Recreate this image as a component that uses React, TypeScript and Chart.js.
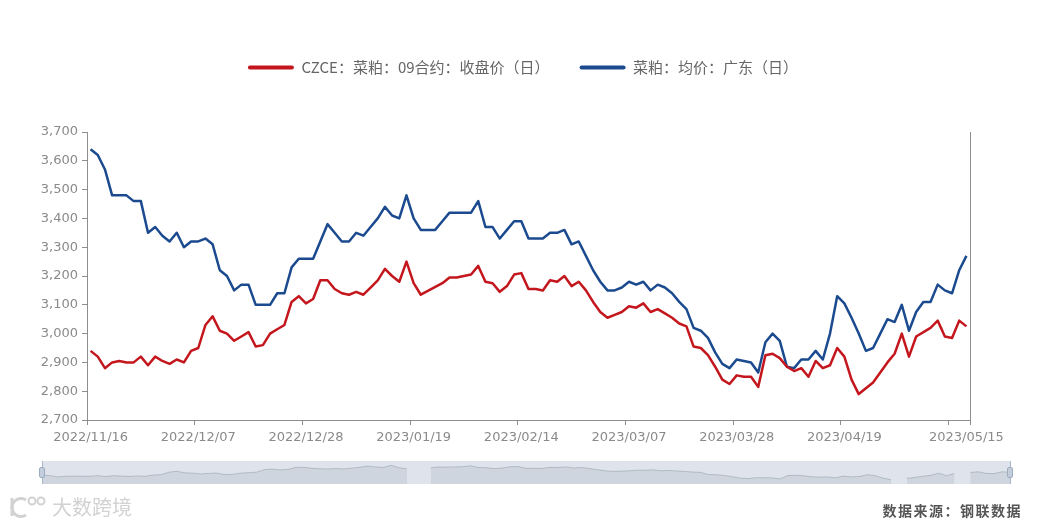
import React, { useEffect, useRef } from "react";
import { Chart, registerables } from "chart.js";

Chart.register(...registerables);

// ---------------- data ----------------
const dates: string[] = [
  "2022/11/16", "2022/11/17", "2022/11/18", "2022/11/21", "2022/11/22", "2022/11/23", "2022/11/24", "2022/11/25", "2022/11/28", "2022/11/29", "2022/11/30",
  "2022/12/01", "2022/12/02", "2022/12/05", "2022/12/06", "2022/12/07", "2022/12/08", "2022/12/09", "2022/12/12", "2022/12/13", "2022/12/14", "2022/12/15",
  "2022/12/16", "2022/12/19", "2022/12/20", "2022/12/21", "2022/12/22", "2022/12/23", "2022/12/26", "2022/12/27", "2022/12/28", "2022/12/29", "2022/12/30",
  "2023/01/03", "2023/01/04", "2023/01/05", "2023/01/06", "2023/01/09", "2023/01/10", "2023/01/11", "2023/01/12", "2023/01/13", "2023/01/16", "2023/01/17",
  "2023/01/18", "2023/01/19", "2023/01/20", "2023/01/28", "2023/01/29", "2023/01/30", "2023/01/31",
  "2023/02/01", "2023/02/02", "2023/02/03", "2023/02/06", "2023/02/07", "2023/02/08", "2023/02/09", "2023/02/10", "2023/02/13", "2023/02/14", "2023/02/15",
  "2023/02/16", "2023/02/17", "2023/02/20", "2023/02/21", "2023/02/22", "2023/02/23", "2023/02/24", "2023/02/27", "2023/02/28",
  "2023/03/01", "2023/03/02", "2023/03/03", "2023/03/06", "2023/03/07", "2023/03/08", "2023/03/09", "2023/03/10", "2023/03/13", "2023/03/14", "2023/03/15",
  "2023/03/16", "2023/03/17", "2023/03/20", "2023/03/21", "2023/03/22", "2023/03/23", "2023/03/24", "2023/03/27", "2023/03/28", "2023/03/29", "2023/03/30",
  "2023/03/31",
  "2023/04/03", "2023/04/04", "2023/04/06", "2023/04/07", "2023/04/10", "2023/04/11", "2023/04/12", "2023/04/13", "2023/04/14", "2023/04/17", "2023/04/18",
  "2023/04/19", "2023/04/20", "2023/04/21", "2023/04/23", "2023/04/24", "2023/04/25", "2023/04/26", "2023/04/27", "2023/04/28",
  "2023/05/04", "2023/05/05", "2023/05/06", "2023/05/08", "2023/05/09", "2023/05/10", "2023/05/11", "2023/05/12", "2023/05/15",
];

const czceClose: (number | null)[] = [
  2940, 2920, 2880, 2900, 2905, 2900, 2900, 2920, 2890, 2920,
  2905, 2895, 2910, 2900, 2940, 2950, 3030, 3060, 3010, 3000,
  2975, 2990, 3005, 2955, 2960, 3000, 3015, 3030, 3110, 3130,
  3105, 3120, 3185, 3185, 3155, 3140, 3135, 3145, 3135, 3160,
  3185, 3225, 3200, 3180, 3250, 3175, 3135, null, null, 3175,
  3195, 3195, 3200, 3205, 3235, 3180, 3175, 3145, 3165, 3205,
  3210, 3155, 3155, 3150, 3185, 3180, 3200, 3165, 3180, 3150,
  3110, 3075, 3055, 3065, 3075, 3095, 3090, 3105, 3075, 3085,
  3070, 3055, 3035, 3025, 2955, 2950, 2925, 2885, 2840, 2825,
  2855, 2850, 2850, 2815, 2925, 2930, 2915, 2885, 2870, 2880,
  2850, 2905, 2880, 2890, 2950, 2920, 2840, 2790, null, 2830,
  2865, 2900, 2930, 3000, 2920, 2990, null, 3020, 3045, 2990,
  2985, 3045, 3025,
];

const gdAvg: number[] = [
  3640, 3620, 3570, 3480, 3480, 3480, 3460, 3460, 3350, 3370,
  3340, 3320, 3350, 3300, 3320, 3320, 3330, 3310, 3220, 3200,
  3150, 3170, 3170, 3100, 3100, 3100, 3140, 3140, 3230, 3260,
  3260, 3260, 3320, 3380, 3350, 3320, 3320, 3350, 3340, 3370,
  3400, 3440, 3410, 3400, 3480, 3400, 3360, 3360, 3360, 3390,
  3420, 3420, 3420, 3420, 3460, 3370, 3370, 3330, 3360, 3390,
  3390, 3330, 3330, 3330, 3350, 3350, 3360, 3310, 3320, 3270,
  3220, 3180, 3150, 3150, 3160, 3180, 3170, 3180, 3150, 3170,
  3160, 3140, 3110, 3085, 3020, 3010, 2985, 2935, 2895, 2880,
  2910, 2905, 2900, 2865, 2970, 3000, 2975, 2885, 2880, 2910,
  2910, 2940, 2910, 3000, 3130, 3105, 3055, 3000, 2940, 2950,
  3000, 3050, 3040, 3100, 3010, 3075, 3110, 3110, 3170, 3150,
  3140, 3220, 3270,
];

const seriesNames = ["CZCE：菜粕：09合约：收盘价（日）", "菜粕：均价：广东（日）"];
const seriesColors = ["#c4161d", "#1b4a8f"];
const yMin = 2700;
const yMax = 3700;
const yStep = 100;
const tickEvery = 15;
const lastLabelIndex = dates.length - 1;
const lastRegularLabel = 105;
const sourceText = "数据来源：钢联数据";
const watermarkText = "大数跨境";

// ---------------- layout ----------------
const W = 1046;
const H = 527;
const PLOT_LEFT = 87;
const PLOT_RIGHT = 970;
const PLOT_BOTTOM = 420;
const X_AXIS_H = 32;
const LEGEND_GAP = 47;
const AXIS_COLOR = "#8e8e8e";
const LABEL_COLOR = "#8a8a8a";

const showLabel = (i: number) =>
  (i % tickEvery === 0 && i <= lastRegularLabel) || i === lastLabelIndex;

const legendSpacer = {
  id: "legendSpacer",
  beforeInit(chart: any) {
    const legend = chart.legend;
    if (!legend) return;
    const origFit = legend.fit;
    legend.fit = function () {
      origFit.call(this);
      this.height += LEGEND_GAP;
    };
  },
};

export default function App() {
  const mainRef = useRef<HTMLCanvasElement>(null);
  const zoomRef = useRef<HTMLCanvasElement>(null);

  useEffect(() => {
    const main = new Chart(mainRef.current as HTMLCanvasElement, {
      type: "line",
      data: {
        labels: dates,
        datasets: [
          {
            label: seriesNames[0],
            data: czceClose,
            borderColor: seriesColors[0],
            backgroundColor: seriesColors[0],
            borderWidth: 2.5,
            pointRadius: 0,
            pointHoverRadius: 0,
            tension: 0,
            spanGaps: true,
            borderJoinStyle: "round",
          },
          {
            label: seriesNames[1],
            data: gdAvg,
            borderColor: seriesColors[1],
            backgroundColor: seriesColors[1],
            borderWidth: 2.5,
            pointRadius: 0,
            pointHoverRadius: 0,
            tension: 0,
            spanGaps: true,
            borderJoinStyle: "round",
          },
        ],
      },
      options: {
        responsive: false,
        animation: false,
        events: [],
        layout: {
          padding: { top: 30, left: 0, right: 0, bottom: H - PLOT_BOTTOM - X_AXIS_H },
        },
        plugins: {
          tooltip: { enabled: false },
          legend: {
            display: true,
            position: "top",
            align: "center",
            labels: {
              boxWidth: 46,
              boxHeight: 4,
              padding: 30,
              color: "#666",
              font: { size: 15, family: "'Noto Sans CJK SC', 'Noto Sans', sans-serif" },
              useBorderRadius: true,
              borderRadius: 2,
              generateLabels: (chart: any) =>
                chart.data.datasets.map((ds: any, i: number) => ({
                  text: ds.label,
                  fillStyle: ds.borderColor,
                  strokeStyle: ds.borderColor,
                  lineWidth: 0,
                  hidden: false,
                  datasetIndex: i,
                  borderRadius: 2,
                  fontColor: "#666",
                })),
            },
          },
        },
        scales: {
          x: {
            type: "category",
            offset: true,
            grid: {
              offset: true,
              drawOnChartArea: false,
              drawTicks: true,
              tickLength: 5,
              lineWidth: 1,
              color: (ctx: any) =>
                ctx.index === undefined || ctx.index % tickEvery === 0 ? AXIS_COLOR : "rgba(0,0,0,0)",
            },
            border: { display: true, color: AXIS_COLOR, width: 1 },
            ticks: {
              autoSkip: false,
              maxRotation: 0,
              minRotation: 0,
              padding: 5,
              color: LABEL_COLOR,
              font: { size: 13, family: "'DejaVu Sans', sans-serif" },
              callback: (_v: any, i: number) => (showLabel(i) ? dates[i] : ""),
            },
            afterFit: (s: any) => {
              s.height = X_AXIS_H;
            },
          },
          y: {
            position: "left",
            min: yMin,
            max: yMax,
            grid: {
              drawOnChartArea: false,
              drawTicks: true,
              tickLength: 5,
              color: AXIS_COLOR,
            },
            border: { display: true, color: AXIS_COLOR, width: 1 },
            ticks: {
              stepSize: yStep,
              padding: 4,
              color: LABEL_COLOR,
              font: { size: 13, family: "'DejaVu Sans', sans-serif" },
              callback: (v: any) => Number(v).toLocaleString("en-US"),
            },
            afterFit: (s: any) => {
              s.width = PLOT_LEFT;
            },
          },
          y2: {
            position: "right",
            min: yMin,
            max: yMax,
            grid: { display: false, drawTicks: false },
            border: { display: true, color: AXIS_COLOR, width: 1 },
            ticks: { display: false },
            afterFit: (s: any) => {
              s.width = W - PLOT_RIGHT;
            },
          },
        },
      },
      plugins: [legendSpacer],
    } as any);

    const vals = czceClose.filter((v) => v !== null) as number[];
    const lo = Math.min(...vals);
    const hi = Math.max(...vals);
    const pad = (hi - lo) * 0.3;

    const zoom = new Chart(zoomRef.current as HTMLCanvasElement, {
      type: "line",
      data: {
        labels: dates,
        datasets: [
          {
            data: czceClose,
            borderColor: "rgba(47,69,84,0.22)",
            backgroundColor: "rgba(47,69,84,0.09)",
            borderWidth: 1,
            pointRadius: 0,
            fill: "start",
            spanGaps: false,
            tension: 0,
          },
        ],
      },
      options: {
        responsive: false,
        animation: false,
        events: [],
        layout: { padding: 0 },
        plugins: { legend: { display: false }, tooltip: { enabled: false } },
        scales: {
          x: { display: false, offset: false },
          y: { display: false, min: lo - pad, max: hi + pad },
        },
      },
    } as any);

    return () => {
      main.destroy();
      zoom.destroy();
    };
  }, []);

  const handle = (left: number) => (
    <>
      <div
        style={{
          position: "absolute",
          left: left,
          top: 461,
          width: 1,
          height: 23,
          background: "#a9b6c8",
        }}
      />
      <div
        style={{
          position: "absolute",
          left: left - 3,
          top: 467,
          width: 6,
          height: 11,
          background: "#c3cddb",
          border: "1px solid #9eacc0",
          borderRadius: 2,
          boxSizing: "border-box",
        }}
      />
    </>
  );

  return (
    <div
      style={{
        position: "absolute",
        left: 0,
        top: 0,
        width: W,
        height: H,
        background: "#fff",
        overflow: "hidden",
      }}
    >
      <canvas ref={mainRef} width={W} height={H} style={{ position: "absolute", left: 0, top: 0 }} />
      <div
        style={{
          position: "absolute",
          left: 42,
          top: 461,
          width: 968,
          height: 23,
          background: "#dfe4ec",
          boxSizing: "border-box",
        }}
      >
        <canvas ref={zoomRef} width={968} height={23} style={{ display: "block" }} />
      </div>
      {handle(42)}
      {handle(1010)}
      <div
        style={{
          position: "absolute",
          left: 8,
          top: 495,
          display: "flex",
          alignItems: "center",
          color: "#d2d2d2",
          fontFamily: "'Noto Sans CJK SC', sans-serif",
          fontSize: 20,
          lineHeight: "24px",
        }}
      >
        <svg width="40" height="24" viewBox="0 0 40 24" style={{ marginRight: 4 }}>
          <path d="M4 3 L4 21" stroke="#d2d2d2" strokeWidth="3" fill="none" />
          <path d="M18 5 A9 9 0 1 0 18 20" stroke="#d2d2d2" strokeWidth="3" fill="none" />
          <circle cx="24" cy="6" r="3.5" stroke="#d2d2d2" strokeWidth="2" fill="none" />
          <circle cx="33" cy="6" r="3.5" stroke="#d2d2d2" strokeWidth="2" fill="none" />
        </svg>
        <span>{watermarkText}</span>
      </div>
      <div
        style={{
          position: "absolute",
          right: 24,
          top: 500,
          color: "#555",
          fontFamily: "'Noto Sans CJK SC', sans-serif",
          fontWeight: 700,
          fontSize: 14,
          letterSpacing: 1.5,
          lineHeight: "20px",
        }}
      >
        {sourceText}
      </div>
    </div>
  );
}
